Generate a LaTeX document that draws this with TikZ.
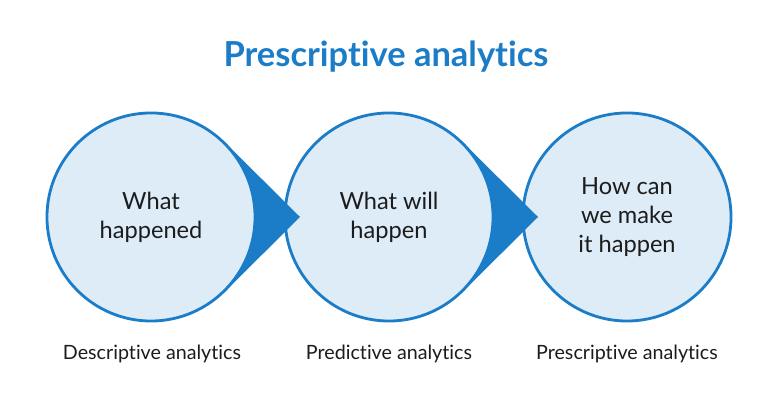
\documentclass[tikz,border=0pt]{standalone}
\usepackage{fontspec}
\setmainfont{Lato}[Ligatures=NoCommon]
\usetikzlibrary{calc}
\definecolor{brandblue}{RGB}{27,125,200}
\definecolor{bubblefill}{RGB}{222,236,247}
\definecolor{inktext}{RGB}{28,28,28}

\begin{document}
\begin{tikzpicture}[x=0.025cm, y=0.025cm,
  bubble/.style={circle, draw=brandblue, line width=2pt, fill=bubblefill, minimum size=5.2cm, inner sep=0pt, align=center, text=inktext, font=\fontsize{16.8}{20.8}\selectfont},
  tipfill/.style={fill=brandblue},
  caption/.style={text=inktext, font=\fontsize{14}{16}\selectfont},
  heading/.style={text=brandblue, font=\bfseries\fontsize{24.5}{28}\selectfont}
]
\useasboundingbox (0,0) rectangle (780,406);

\node[heading] (title) at (386,349) {Prescriptive analytics};

\coordinate (o1) at (151,189);
\coordinate (o2) at (389,189);
\coordinate (o3) at (627,189);
\coordinate (t1) at ($(o1)+(149,0)$);
\coordinate (t2) at ($(o2)+(149,0)$);

\node[bubble] (c3) at (o3) {How can\\we make\\it happen};
\fill[tipfill] (o2) -- ($(o2)+(45:105)$) -- (t2) -- ($(o2)+(-45:105)$) -- cycle;
\node[bubble] (c2) at (o2) {What will\\happen};
\fill[tipfill] (o1) -- ($(o1)+(45:105)$) -- (t1) -- ($(o1)+(-45:105)$) -- cycle;
\node[bubble] (c1) at (o1) {What\\happened};

\node[caption] (l1) at (152,52) {Descriptive analytics};
\node[caption] (l2) at (389,52) {Predictive analytics};
\node[caption] (l3) at (627,52) {Prescriptive analytics};
\end{tikzpicture}
\end{document}
